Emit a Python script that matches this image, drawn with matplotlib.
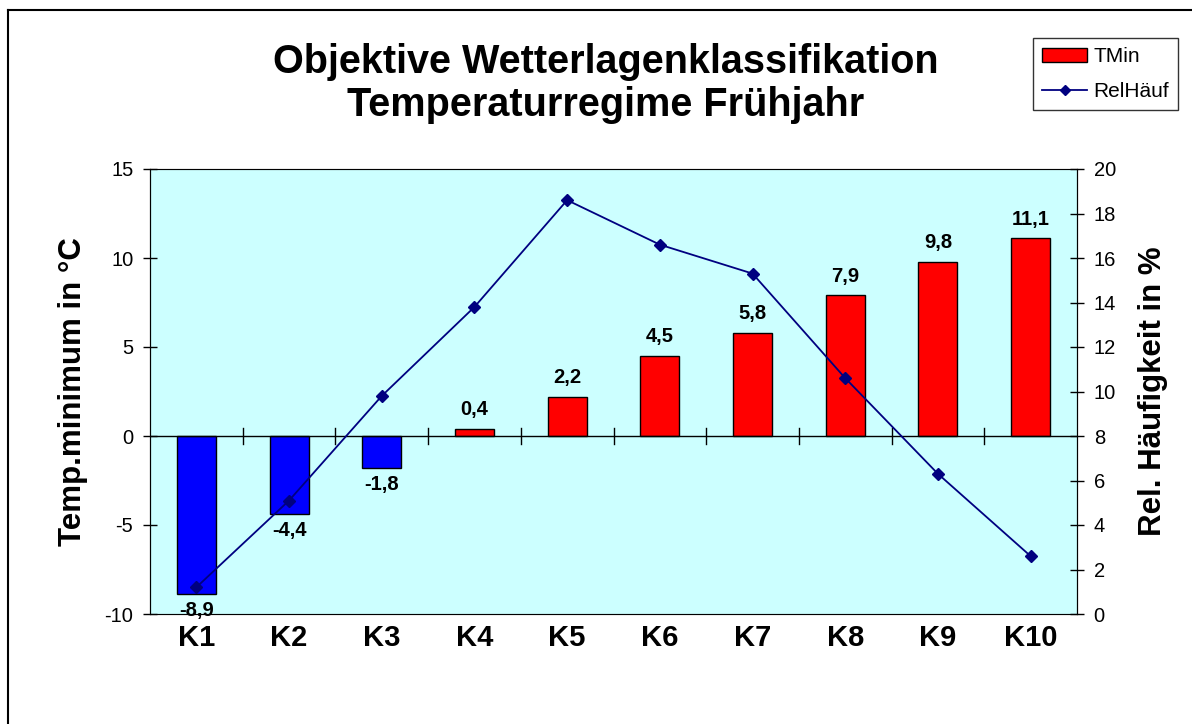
from matplotlib import pyplot as plt
from matplotlib.lines import Line2D

plt.rcParams['font.family'] = ['Liberation Sans', 'DejaVu Sans']

klassen = ["K1", "K2", "K3", "K4", "K5", "K6", "K7", "K8", "K9", "K10"]
tmin = [-8.9, -4.4, -1.8, 0.4, 2.2, 4.5, 5.8, 7.9, 9.8, 11.1]
relhaeuf = [1.2, 5.1, 9.8, 13.8, 18.6, 16.6, 15.3, 10.6, 6.3, 2.6]

W, H = 1192, 724
fig = plt.figure(figsize=(W / 100, H / 100), dpi=100)
ax = fig.add_axes([150 / W, 1 - 614 / H, (1077 - 150) / W, (614 - 169) / H])
ax.set_facecolor('#ccffff')

x = list(range(len(klassen)))
colors = ['#ff0000' if v >= 0 else '#0000ff' for v in tmin]
ax.bar(x, tmin, width=0.42, color=colors, edgecolor='black', linewidth=1, zorder=2)

for xi, v in zip(x, tmin):
    txt = f"{v:.1f}".replace('.', ',')
    if v >= 0:
        ax.annotate(txt, (xi, v), xytext=(0, 7), textcoords='offset points',
                    ha='center', va='bottom', fontsize=14.5, fontweight='bold')
    else:
        ax.annotate(txt, (xi, v), xytext=(0, -5), textcoords='offset points',
                    ha='center', va='top', fontsize=14.5, fontweight='bold')

ax.set_xlim(-0.5, len(klassen) - 0.5)
ax.set_ylim(-10, 15)
ax.set_yticks([-10, -5, 0, 5, 10, 15])
ax.set_yticklabels(["-10", "-5", "0", "5", "10", "15"])
ax.tick_params(axis='y', direction='inout', length=10, width=1, labelsize=14.5, pad=7)
ax.set_xticks(x)
ax.set_xticklabels(klassen, fontsize=21, fontweight='bold')
ax.tick_params(axis='x', length=0, pad=7)

# zero line with category separators
ax.axhline(0, color='black', linewidth=1, zorder=3)
for b in range(1, len(klassen)):
    ax.plot([b - 0.5, b - 0.5], [-0.45, 0.45], color='black', linewidth=1, zorder=3)

ax.set_ylabel("Temp.minimum in °C", fontsize=22.5, fontweight='bold', labelpad=12)
for s in ['top', 'bottom']:
    ax.spines[s].set_color('#808080')
ax.spines['left'].set_color('black')

ax2 = ax.twinx()
ax2.plot(x, relhaeuf, '-D', color='#000080', markersize=6, linewidth=1.3, zorder=4)
ax2.set_ylim(0, 20)
ax2.set_yticks(range(0, 21, 2))
ax2.tick_params(axis='y', direction='inout', length=10, width=1, labelsize=14.5, pad=7)
ax2.set_ylabel("Rel. Häufigkeit in %", fontsize=22.5, fontweight='bold', labelpad=16)
ax2.spines['right'].set_color('black')

fig.text(606 / W, 1 - 62 / H, "Objektive Wetterlagenklassifikation", ha='center', va='center',
         fontsize=28.5, fontweight='bold')
fig.text(606 / W, 1 - 105 / H, "Temperaturregime Frühjahr", ha='center', va='center',
         fontsize=28.5, fontweight='bold')

handles = [plt.Rectangle((0, 0), 1, 1, facecolor='#ff0000', edgecolor='black', linewidth=1),
           Line2D([0], [0], color='#000080', marker='D', markersize=5, linewidth=1.3)]
leg = fig.legend(handles, ["TMin", "RelHäuf"], loc='upper left',
                 bbox_to_anchor=(1033 / W, 1 - 38 / H), fontsize=15, frameon=True,
                 fancybox=False, edgecolor='black', handlelength=2.15, borderpad=0.45,
                 handletextpad=0.3, labelspacing=0.75, borderaxespad=0)
leg.get_frame().set_linewidth(1)

# outer chart frame
fig.add_artist(Line2D([8 / W, 1], [1 - 10 / H, 1 - 10 / H], color='black', linewidth=1.5))
fig.add_artist(Line2D([8 / W, 8 / W], [0, 1 - 10 / H], color='black', linewidth=1.5))

fig.savefig("out.png", dpi=100)
